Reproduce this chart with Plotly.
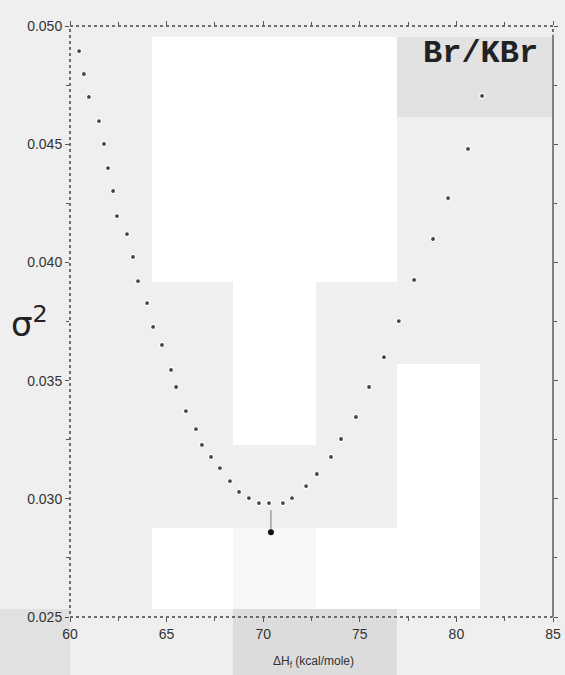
import plotly.graph_objects as go

# Scan of sigma^2 versus heat of formation for Br/KBr
dhf = [60.47, 60.72, 60.98, 61.50, 61.76, 61.97, 62.23, 62.43, 62.95, 63.26,
       63.52, 63.99, 64.30, 64.76, 65.23, 65.49, 66.00, 66.52, 66.83, 67.30,
       67.76, 68.28, 68.75, 69.26, 69.78, 70.30, 71.02, 71.49, 72.22, 72.78,
       73.51, 74.03, 74.80, 75.48, 76.25, 77.02, 77.81, 78.79, 79.57, 80.60,
       81.33]
sigma2 = [0.04894, 0.04797, 0.04700, 0.04598, 0.04501, 0.04399, 0.04302, 0.04196,
          0.04120, 0.04023, 0.03921, 0.03828, 0.03727, 0.03651, 0.03545, 0.03473,
          0.03371, 0.03295, 0.03228, 0.03177, 0.03130, 0.03075, 0.03029, 0.03003,
          0.02982, 0.02982, 0.02982, 0.03003, 0.03054, 0.03105, 0.03177, 0.03253,
          0.03346, 0.03473, 0.03599, 0.03752, 0.03926, 0.04099, 0.04272, 0.04480,
          0.04704]

# Best-fit point with its upward error bar
best_x = [70.40]
best_y = [0.02859]
best_err = [0.00093]

x_ticks = [60, 65, 70, 75, 80, 85]
y_ticks = [0.025, 0.030, 0.035, 0.040, 0.045, 0.050]
y_tick_text = ["0.025", "0.030", "0.035", "0.040", "0.045", "0.050"]

W, H = 565, 675
ML, MR, MT, MB = 70, 12, 26, 58
PW, PH = W - ML - MR, H - MT - MB


def px_rect(x0, y0, x1, y1, color):
    """Rectangle given in page pixels, placed in paper coordinates."""
    return dict(type="rect", xref="paper", yref="paper", layer="below",
                x0=(x0 - ML) / PW, x1=(x1 - ML) / PW,
                y0=(H - MB - y1) / PH, y1=(H - MB - y0) / PH,
                fillcolor=color, line=dict(width=0))


def px_text(text, x, y, font):
    """Text centred on a page-pixel position."""
    return dict(text=text, xref="paper", yref="paper",
                x=(x - ML) / PW, y=(H - MB - y) / PH,
                xanchor="center", yanchor="middle", showarrow=False, font=font)


shapes = [
    px_rect(152, 37, 397, 282, "#ffffff"),
    px_rect(233, 282, 316, 445, "#ffffff"),
    px_rect(397, 37, 553, 117, "#e2e2e2"),
    px_rect(397, 364, 480, 609, "#ffffff"),
    px_rect(152, 528, 233, 609, "#ffffff"),
    px_rect(233, 528, 316, 609, "#f7f7f7"),
    px_rect(316, 528, 397, 609, "#ffffff"),
    px_rect(0, 609, 70, 675, "#e1e1e1"),
    px_rect(233, 609, 397, 675, "#dcdcdc"),
    # dotted frame around the plotting area
    dict(type="rect", xref="paper", yref="paper", x0=0, x1=1, y0=0, y1=1,
         layer="above", line=dict(color="#444444", width=1.5, dash="dot"),
         fillcolor="rgba(0,0,0,0)"),
    # right edge drawn as a solid grey rule
    dict(type="line", xref="paper", yref="paper", x0=1, x1=1, y0=0, y1=0.985,
         layer="above", line=dict(color="#808080", width=2)),
]

fig = go.Figure()
fig.add_trace(go.Scatter(
    x=dhf, y=sigma2, mode="markers",
    marker=dict(size=5, color="#444444", line=dict(color="#ffffff", width=1.2)),
    showlegend=False, hoverinfo="skip"))
fig.add_trace(go.Scatter(
    x=best_x, y=best_y, mode="markers",
    marker=dict(size=6, color="#111111"),
    error_y=dict(type="data", symmetric=False, array=best_err,
                 arrayminus=[0], width=0, thickness=1, color="#777777"),
    showlegend=False, hoverinfo="skip"))

axis_font = dict(family="Liberation Sans, Arial, sans-serif", size=14, color="#333333")

fig.update_layout(
    width=W, height=H,
    margin=dict(l=ML, r=MR, t=MT, b=MB),
    paper_bgcolor="#efefef", plot_bgcolor="#efefef",
    shapes=shapes,
    xaxis=dict(range=[60, 85], tickvals=x_ticks, ticks="outside", ticklen=4,
               tickcolor="#555555", mirror="ticks", showline=False,
               showgrid=False, zeroline=False, tickfont=axis_font, automargin=False,
               minor=dict(dtick=2.5, ticks="outside", ticklen=3, tickcolor="#555555")),
    yaxis=dict(range=[0.025, 0.050], tickvals=y_ticks, ticktext=y_tick_text,
               ticks="outside", ticklen=4, tickcolor="#555555", mirror="ticks",
               showline=False, showgrid=False, zeroline=False, tickfont=axis_font,
               automargin=False,
               minor=dict(dtick=0.0025, ticks="outside", ticklen=3, tickcolor="#555555")),
    annotations=[
        px_text("<b>Br/KBr</b>", 480, 53,
                dict(family="Courier New, Liberation Mono, monospace", size=32,
                     color="#222222")),
        px_text("σ<sup style='font-size:14px'>2</sup>", 29, 322,
                dict(family="DejaVu Sans, sans-serif", size=34, color="#222222")),
        px_text("ΔH<sub>f</sub> (kcal/mole)", 313, 662,
                dict(family="Liberation Sans, Arial, sans-serif", size=12,
                     color="#333333")),
    ],
)

fig.write_html("out.html")
